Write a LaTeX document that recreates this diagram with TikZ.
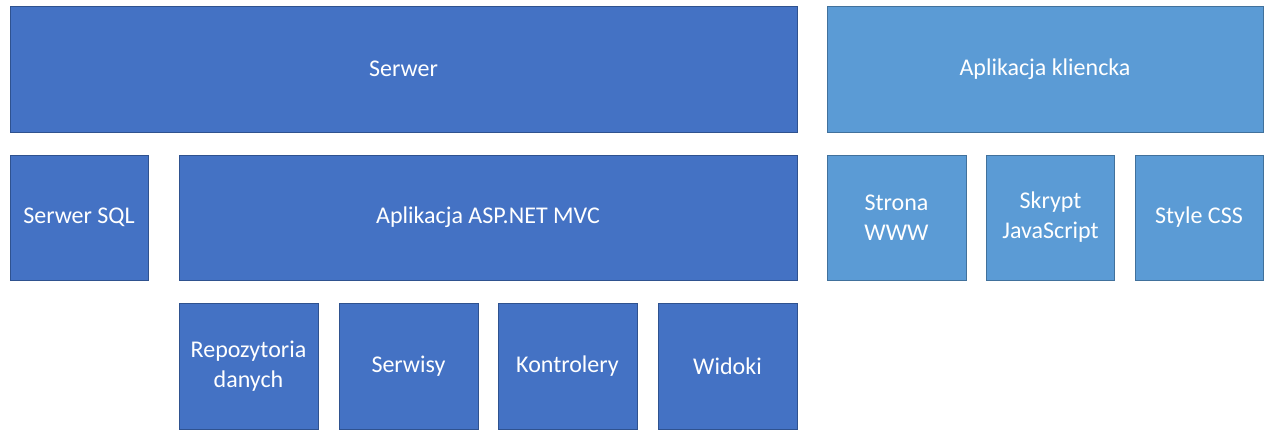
\documentclass[tikz,border=0pt]{standalone}
\usepackage{fontspec}
\setmainfont{Carlito}
\usepackage{tikz}
\definecolor{darkbox}{HTML}{4472C4}
\definecolor{darkline}{HTML}{2F528F}
\definecolor{lightbox}{HTML}{5B9BD5}
\definecolor{lightline}{HTML}{41719C}
\tikzset{
    every node/.style={rectangle, inner sep=1mm, outer sep=0pt, align=center,
        text=white, font=\fontsize{12}{15}\selectfont, line width=0.5pt}
}
\tikzset{srvbox/.style={fill=darkbox, draw=darkline}}
\tikzset{cltbox/.style={fill=lightbox, draw=lightline}}

\begin{document}
\begin{tikzpicture}[x=0.5pt, y=-0.5pt]
        \useasboundingbox (0,0) rectangle (1280,435);
        \node (srv) [srvbox, minimum width=393.5pt, minimum height=63pt] at (403.5, 69) {Serwer};
        \node (app) [cltbox, minimum width=218pt, minimum height=63pt] at (1045, 69) {Aplikacja kliencka};
        \node (sql) [srvbox, minimum width=69pt, minimum height=62.5pt] at (79, 217.5) {Serwer SQL};
        \node (mvc) [srvbox, minimum width=309pt, minimum height=62.5pt] at (488, 217.5) {Aplikacja ASP.NET MVC};
        \node (www) [cltbox, minimum width=69.5pt, minimum height=62.5pt] at (896.5, 217.5) {Strona\\WWW};
        \node (js) [cltbox, minimum width=64pt, minimum height=62.5pt] at (1050.5, 217.5) {Skrypt\\JavaScript};
        \node (css) [cltbox, minimum width=64pt, minimum height=62.5pt] at (1199, 217.5) {Style CSS};
        \node (repo) [srvbox, minimum width=69.5pt, minimum height=63pt] at (248.5, 366) {Repozytoria\\danych};
        \node (svc) [srvbox, minimum width=69.5pt, minimum height=63pt] at (408.5, 366) {Serwisy};
        \node (ctl) [srvbox, minimum width=69.5pt, minimum height=63pt] at (567.5, 366) {Kontrolery};
        \node (view) [srvbox, minimum width=69.5pt, minimum height=63pt] at (727.5, 366) {Widoki};
\end{tikzpicture}
\end{document}
